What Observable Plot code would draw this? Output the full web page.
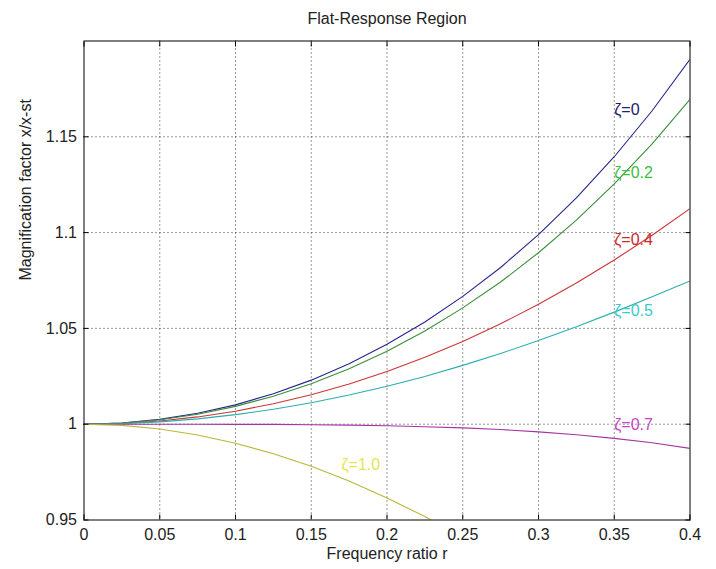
<!DOCTYPE html>
<html><head><meta charset="utf-8">
<script src="https://cdn.jsdelivr.net/npm/d3@7"></script>
<script src="https://cdn.jsdelivr.net/npm/@observablehq/plot@0.6"></script>
<style>body{margin:0;background:#fff}</style>
</head><body><div id="chart"></div>
<script>
// Frequency ratio samples
const r = [0,0.025,0.05,0.075,0.1,0.125,0.15,0.175,0.2,0.225,0.25,0.275,0.3,0.325,0.35,0.375,0.4];
// Magnification factor per damping ratio
const m0  = [1,1.0006,1.0025,1.0057,1.0101,1.0159,1.0230,1.0316,1.0417,1.0533,1.0667,1.0818,1.0989,1.1181,1.1396,1.1636,1.1905];
const m02 = [1,1.0006,1.0023,1.0052,1.0093,1.0146,1.0211,1.0289,1.0381,1.0486,1.0607,1.0742,1.0895,1.1065,1.1254,1.1463,1.1695];
const m04 = [1,1.0004,1.0017,1.0038,1.0068,1.0107,1.0154,1.0210,1.0275,1.0349,1.0432,1.0524,1.0626,1.0737,1.0857,1.0986,1.1125];
const m05 = [1,1.0003,1.0012,1.0028,1.0050,1.0078,1.0112,1.0152,1.0198,1.0249,1.0307,1.0369,1.0437,1.0509,1.0585,1.0665,1.0748];
const m07 = [1,1.0000,1.0000,1.0000,0.9999,0.9999,0.9997,0.9995,0.9992,0.9987,0.9981,0.9972,0.9960,0.9945,0.9926,0.9903,0.9874];
const m10 = [1,0.9994,0.9975,0.9944,0.9901,0.9846,0.9780,0.9703,0.9615,0.9518,0.9412,0.9297,0.9174,0.9045,0.8909,0.8767,0.8621];

const seriesNames = ["ζ=0","ζ=0.2","ζ=0.4","ζ=0.5","ζ=0.7","ζ=1.0"];
const lineColors  = ["#26268c","#3a8f3a","#cc3535","#2aaeae","#a535a5","#b8b838"];
const labelColors = ["#202070","#3cbf3c","#cc2a2a","#38cccc","#c445c4","#e6e64a"];
const labelX = [0.35,0.35,0.35,0.35,0.35,0.17];
const labelY = [1.164,1.131,1.096,1.059,0.9995,0.979];

const xTicks = [0,0.05,0.1,0.15,0.2,0.25,0.3,0.35,0.4];
const xTickLabels = ["0","0.05","0.1","0.15","0.2","0.25","0.3","0.35","0.4"];
const yTicks = [0.95,1,1.05,1.1,1.15];
const yTickLabels = ["0.95","1","1.05","1.1","1.15"];

const title = "Flat-Response Region";
const xLabel = "Frequency ratio r";
const yLabel = "Magnification factor x/x-st";

const series = [m0,m02,m04,m05,m07,m10];

const gridStyle = {stroke:"#111", strokeOpacity:0.85, strokeDasharray:"1,3"};

const chart = Plot.plot({
  width:716, height:569,
  marginLeft:83.5, marginRight:26.5, marginTop:40.5, marginBottom:49.5,
  x:{domain:[0,0.4], label:null},
  y:{domain:[0.95,1.2], label:null},
  style:{fontFamily:"'Liberation Sans', Arial, sans-serif", fontSize:"16px", background:"#fff", color:"#000"},
  marks:[
    Plot.gridX(xTicks.slice(1,-1), gridStyle),
    Plot.gridY(yTicks.slice(1), gridStyle),
    ...series.map((vals, s) => Plot.line(r, {x: d => d, y: (d, i) => vals[i], stroke: lineColors[s], strokeWidth:1.1, clip:true})),
    Plot.frame({stroke:"#000", strokeWidth:1}),
    Plot.axisX(xTicks, {anchor:"bottom", tickSize:-5, tickFormat:() => "", label:null}),
    Plot.axisX(xTicks, {anchor:"top", tickSize:-5, tickFormat:() => "", label:null}),
    Plot.axisY(yTicks, {anchor:"left", tickSize:-5, tickFormat:() => "", label:null}),
    Plot.axisY(yTicks, {anchor:"right", tickSize:-5, tickFormat:() => "", label:null}),
    Plot.axisX(xTicks, {anchor:"bottom", tickSize:0, tickPadding:9, fontSize:16, fill:"#222", tickFormat:d => xTickLabels[xTicks.indexOf(d)], label:null}),
    Plot.axisY(yTicks, {anchor:"left", tickSize:0, tickPadding:7, fontSize:16, fill:"#222", tickFormat:d => yTickLabels[yTicks.indexOf(d)], label:null}),
    ...seriesNames.map((t, i) => Plot.text([t], {x: () => labelX[i], y: () => labelY[i], text: d => d, fill: labelColors[i], textAnchor:"start", fontSize:16})),
    Plot.text([title], {frameAnchor:"top", dy:-28, fontSize:16, fill:"#222"}),
    Plot.text([xLabel], {frameAnchor:"bottom", dy:39, fontSize:16, fill:"#222"}),
    Plot.text([yLabel], {frameAnchor:"left", dx:-58, rotate:-90, fontSize:16, fill:"#222"})
  ]
});
document.getElementById("chart").appendChild(chart);
</script>
</body></html>
